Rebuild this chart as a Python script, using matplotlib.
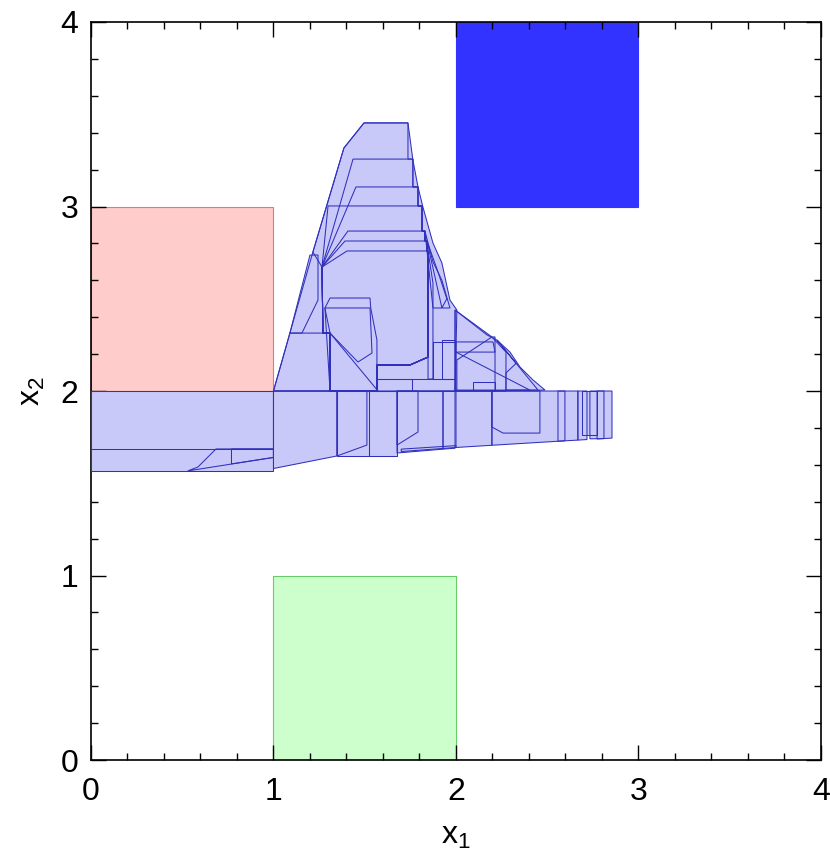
import matplotlib
matplotlib.use("Agg")
import matplotlib.pyplot as plt
from matplotlib.patches import Polygon, Rectangle
from matplotlib.ticker import MultipleLocator

plt.rcParams['font.family'] = ['Liberation Sans', 'DejaVu Sans']
plt.rcParams['mathtext.fontset'] = 'custom'
plt.rcParams['mathtext.rm'] = 'Liberation Sans'
plt.rcParams['mathtext.it'] = 'Liberation Sans'

# Boxes: (x0, x1, y0, y1)
init_box = (0.0, 1.0, 2.0, 3.0)      # red
goal_box = (2.0, 3.0, 3.0, 4.0)      # solid blue
avoid_box = (1.0, 2.0, 0.0, 1.0)     # green

# Reach-set cells in the horizontal band (x2 between ~1.57 and 2)
band_cells = [
    [(0.0, 1.567), (1.0, 1.567), (1.0, 2.0), (0.0, 2.0)],
    [(0.0, 1.686), (1.0, 1.686), (1.0, 2.0), (0.0, 2.0)],
    [(0.53, 1.567), (1.0, 1.640), (1.0, 1.686), (0.685, 1.686), (0.586, 1.588)],
    [(0.77, 1.605), (1.0, 1.640), (1.0, 1.686), (0.77, 1.686)],
    [(1.0, 1.580), (1.348, 1.648), (1.348, 2.0), (1.0, 2.0)],
    [(1.348, 1.648), (1.512, 1.707), (1.512, 2.0), (1.348, 2.0)],
    [(1.348, 1.648), (1.523, 1.648), (1.523, 2.0), (1.348, 2.0)],
    [(1.523, 1.648), (1.677, 1.648), (1.677, 2.0), (1.523, 2.0)],
    [(1.677, 1.707), (1.792, 1.778), (1.792, 2.0), (1.677, 2.0)],
    [(1.677, 1.664), (1.929, 1.685), (1.929, 2.0), (1.677, 2.0)],
    [(1.70, 1.672), (2.0, 1.694), (2.0, 1.704), (1.70, 1.685)],
    [(1.929, 1.685), (1.995, 1.690), (1.995, 2.0), (1.929, 2.0)],
    [(2.0, 1.694), (2.197, 1.706), (2.197, 2.0), (2.0, 2.0)],
    [(2.197, 1.805), (2.258, 1.772), (2.46, 1.772), (2.46, 2.0), (2.197, 2.0)],
    [(2.197, 1.706), (2.597, 1.730), (2.597, 2.0), (2.197, 2.0)],
    [(2.559, 1.728), (2.668, 1.734), (2.668, 2.0), (2.559, 2.0)],
    [(2.668, 1.734), (2.718, 1.737), (2.718, 2.0), (2.668, 2.0)],
    [(2.690, 1.760), (2.773, 1.760), (2.773, 2.0), (2.690, 2.0)],
    [(2.734, 1.741), (2.811, 1.742), (2.811, 2.0), (2.734, 2.0)],
    [(2.773, 1.740), (2.855, 1.745), (2.855, 2.0), (2.773, 2.0)],
]

# Stacked cells of the central peak: top height, left and right x of each top edge
layer_top = [3.453, 3.257, 3.106, 3.003, 2.867, 2.813, 2.759]
layer_left = [1.496, 1.436, 1.452, 1.299, 1.408, 1.392, 1.403]
layer_right = [1.737, 1.764, 1.792, 1.814, 1.830, 1.841, 1.847]
layer_base = [(1.847, 2.184), (1.748, 2.141), (1.567, 2.141), (1.567, 2.0),
              (1.31, 2.0), (1.31, 2.314), (1.271, 2.314), (1.266, 2.672)]

peak_cells = [
    # outer hull of the peak
    [(1.0, 2.0), (1.216, 2.753), (1.386, 3.317), (1.496, 3.453), (1.737, 3.453),
     (1.764, 3.252), (1.792, 3.106), (1.819, 2.997), (1.874, 2.802), (1.923, 2.694),
     (1.967, 2.493), (2.005, 2.439), (1.995, 2.0)],
    # left wedge and narrow sliver
    [(1.0, 2.0), (1.09, 2.314), (1.31, 2.314), (1.573, 2.0)],
    [(1.09, 2.314), (1.200, 2.737), (1.244, 2.737), (1.244, 2.493), (1.156, 2.314)],
    # inner boxes
    [(1.282, 2.45), (1.310, 2.504), (1.529, 2.504), (1.533, 2.45), (1.567, 2.276),
     (1.567, 2.0), (1.31, 2.0)],
    [(1.282, 2.45), (1.529, 2.45), (1.540, 2.206), (1.463, 2.157), (1.31, 2.314)],
    # right-hand column
    [(1.847, 2.759), (1.874, 2.585), (1.874, 2.065), (1.847, 2.065)],
    [(1.567, 2.065), (1.995, 2.065), (1.995, 2.0), (1.567, 2.0)],
    [(1.567, 2.065), (1.759, 2.065), (1.759, 2.0), (1.567, 2.0)],
    [(1.874, 2.266), (1.995, 2.266), (1.995, 2.065), (1.874, 2.065)],
    [(1.923, 2.276), (1.995, 2.276), (1.995, 2.065), (1.923, 2.065)],
    [(1.830, 2.867), (1.874, 2.700), (1.923, 2.600), (1.967, 2.45), (1.874, 2.45)],
    [(1.841, 2.813), (1.900, 2.650), (1.950, 2.500), (1.923, 2.45)],
]

# Cells on the lower-right slope of the peak
skirt_cells = [
    [(1.995, 2.439), (2.170, 2.304), (2.225, 2.276), (2.296, 2.211), (2.351, 2.130),
     (2.422, 2.060), (2.488, 2.005), (1.995, 2.0)],
    [(1.995, 2.439), (2.197, 2.293), (2.214, 2.293), (2.214, 2.0), (1.995, 2.0)],
    [(2.0, 2.266), (2.203, 2.266), (2.214, 2.211), (2.0, 2.211)],
    [(2.0, 2.211), (2.405, 2.005), (2.0, 2.005)],
    [(2.005, 2.168), (2.197, 2.293), (2.274, 2.211), (2.274, 2.0), (2.005, 2.0)],
    [(2.093, 2.049), (2.214, 2.049), (2.214, 2.005), (2.093, 2.005)],
    [(2.225, 2.276), (2.330, 2.150), (2.274, 2.098), (2.274, 2.005), (2.45, 2.005)],
]

fill_color = '#c9c9f9'
edge_color = '#3030bc'

fig = plt.figure(figsize=(8.30, 8.59), dpi=100)
ax = fig.add_axes([0.1096, 0.1152, 0.8795, 0.8592])

def box(b, fc, ec, lw=0.8, z=1):
    ax.add_patch(Rectangle((b[0], b[2]), b[1] - b[0], b[3] - b[2],
                           facecolor=fc, edgecolor=ec, lw=lw, zorder=z))

box(init_box, '#ffcccc', '#e07878')
box(avoid_box, '#ccffcc', '#66cc66')
box(goal_box, '#3333ff', '#3333ff')

# assemble peak layers as staircase polygons
layers = []
for k in range(len(layer_top)):
    if k == 0:
        verts = [(1.266, 2.672), (1.216, 2.753), (1.386, 3.317)]
    else:
        verts = [(1.266, 2.672)]
    verts.append((layer_left[k], layer_top[k]))
    for j in range(k, len(layer_top)):
        verts.append((layer_right[j], layer_top[j]))
        if j + 1 < len(layer_top):
            verts.append((layer_right[j], layer_top[j + 1]))
    verts.extend(layer_base)
    layers.append(verts)

cells = band_cells + peak_cells + layers + skirt_cells

# fill first, then all outlines on top so every cell boundary stays visible
for c in cells:
    ax.add_patch(Polygon(c, closed=True, facecolor=fill_color, edgecolor='none', zorder=2))
for c in cells:
    ax.add_patch(Polygon(c, closed=True, facecolor='none', edgecolor=edge_color,
                         lw=0.75, zorder=3))

ax.set_xlim(0, 4)
ax.set_ylim(0, 4)
ax.xaxis.set_major_locator(MultipleLocator(1))
ax.yaxis.set_major_locator(MultipleLocator(1))
ax.xaxis.set_minor_locator(MultipleLocator(0.2))
ax.yaxis.set_minor_locator(MultipleLocator(0.2))
ax.tick_params(which='both', direction='in', top=True, right=True, width=1.0)
ax.tick_params(which='major', length=11, labelsize=23)
ax.tick_params(which='minor', length=5)
ax.tick_params(axis='x', which='major', pad=12)
ax.tick_params(axis='y', which='major', pad=9)
for s in ax.spines.values():
    s.set_linewidth(1.2)

ax.set_xlabel(r'$\mathrm{x}_1$', fontsize=23, labelpad=10)
ax.set_ylabel(r'$\mathrm{x}_2$', fontsize=23, labelpad=10)

fig.savefig('out.png', dpi=100)
